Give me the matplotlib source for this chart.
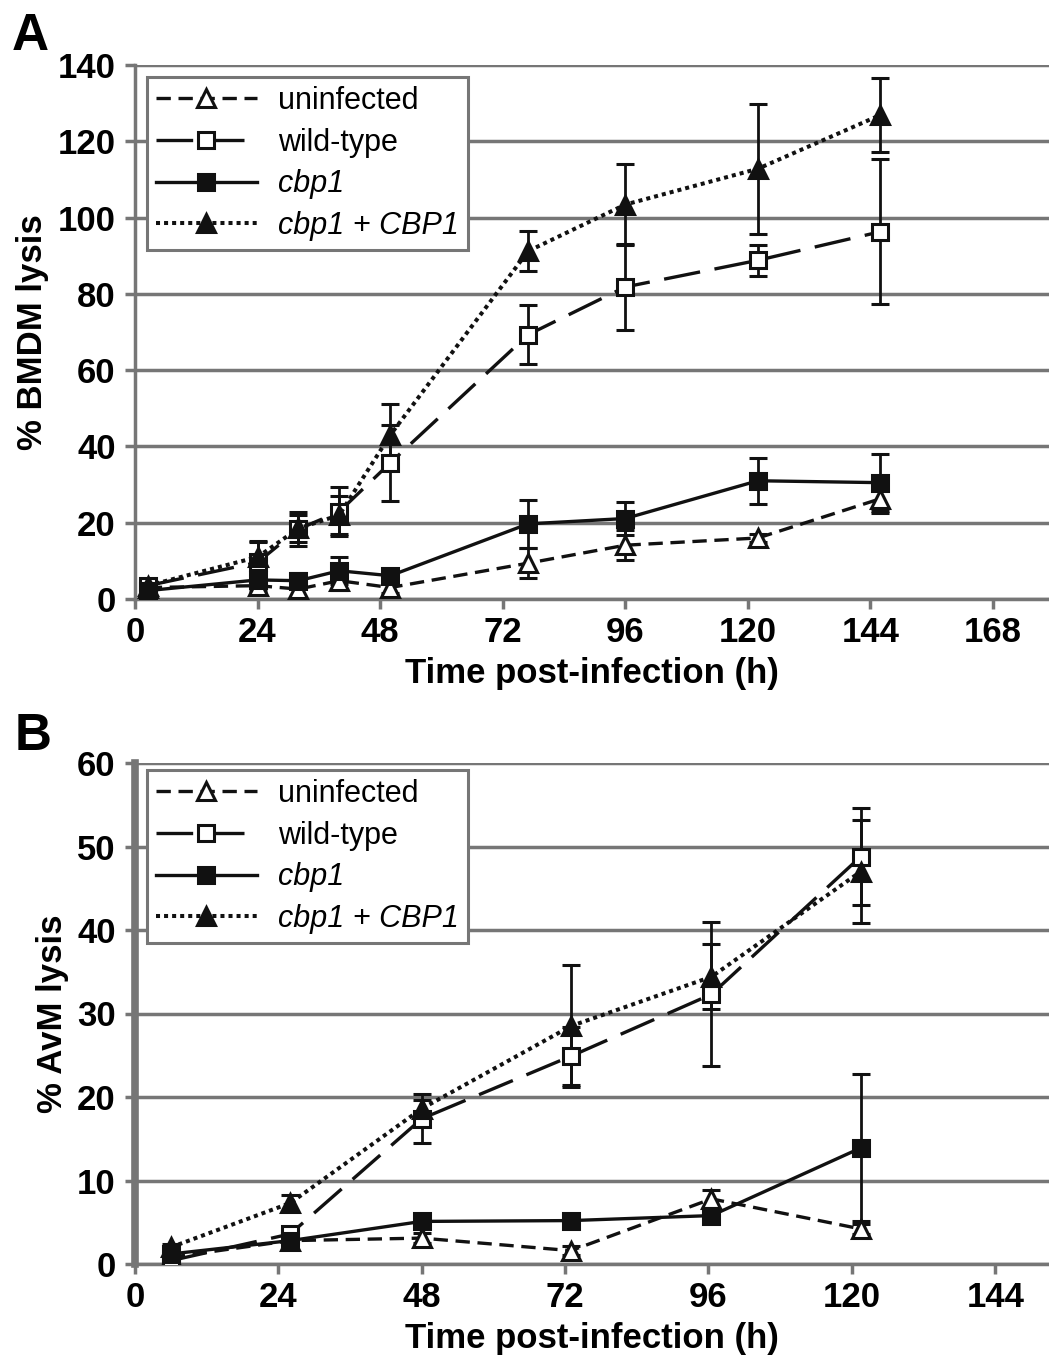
import matplotlib
matplotlib.use("Agg")
import matplotlib.pyplot as plt

plt.rcParams['font.family'] = ['Liberation Sans', 'DejaVu Sans']

# ---- panel A: BMDM ----
a_unf_x = [2.5, 24, 32, 40, 50, 77, 96, 122, 146]
a_unf_y = [3.0, 3.5, 2.6, 4.8, 3.0, 9.4, 14.1, 16.0, 26.3]
a_unf_e = [1.0, 1.5, 2.0, 2.5, 1.5, 4.0, 4.0, 1.0, 3.7]

a_wt_x = [2.5, 24, 32, 40, 50, 77, 96, 122, 146]
a_wt_y = [3.5, 9.6, 18.3, 22.9, 35.7, 69.3, 81.8, 88.8, 96.3]
a_wt_e = [1.0, 5.5, 4.5, 6.5, 10.0, 7.8, 11.3, 4.0, 19.0]

a_cbp_x = [2.5, 24, 32, 40, 50, 77, 96, 122, 146]
a_cbp_y = [2.2, 5.0, 4.8, 7.4, 6.1, 19.7, 21.1, 31.0, 30.5]
a_cbp_e = [1.0, 1.5, 2.0, 3.5, 1.5, 6.3, 4.3, 6.0, 7.5]

a_comp_x = [2.5, 24, 32, 40, 50, 77, 96, 122, 146]
a_comp_y = [3.5, 11.0, 18.5, 22.0, 43.0, 91.2, 103.4, 112.8, 126.9]
a_comp_e = [1.0, 4.0, 3.5, 5.0, 8.0, 5.3, 10.7, 17.0, 9.8]

# ---- panel B: AvM ----
b_unf_x = [6, 26, 48, 73, 96.5, 121.5]
b_unf_y = [0.8, 2.8, 3.1, 1.6, 7.8, 4.2]
b_unf_e = [0.4, 0.5, 0.6, 0.5, 1.1, 0.6]

b_wt_x = [6, 26, 48, 73, 96.5, 121.5]
b_wt_y = [0.4, 3.6, 17.4, 24.9, 32.3, 48.8]
b_wt_e = [0.4, 0.6, 2.9, 3.5, 8.6, 5.8]

b_cbp_x = [6, 26, 48, 73, 96.5, 121.5]
b_cbp_y = [1.2, 2.8, 5.1, 5.2, 5.8, 13.9]
b_cbp_e = [0.4, 0.5, 0.6, 0.8, 0.7, 8.8]

b_comp_x = [6, 26, 48, 73, 96.5, 121.5]
b_comp_y = [2.0, 7.3, 18.6, 28.5, 34.4, 47.0]
b_comp_e = [0.4, 1.0, 1.0, 7.3, 3.9, 6.2]

labels = ['uninfected', 'wild-type', 'cbp1', 'cbp1 + CBP1']
grey = '#767676'

styles = [
    dict(ls=(0, (4.3, 2.3)), marker='^', mfc='white', ms=13, lw=2.4),
    dict(ls=(0, (11, 4.4)), marker='s', mfc='white', ms=11.5, lw=2.4),
    dict(ls='-', marker='s', mfc='#111111', ms=11.5, lw=2.4),
    dict(ls=(0, (1.0, 1.0)), marker='^', mfc='#111111', ms=13, lw=2.9),
]


def draw(ax, series, ymax, ystep, xmax, ylabel, left_lw, leg_top):
    handles = []
    for (x, y, e), st in zip(series, styles):
        eb = ax.errorbar(x, y, yerr=e, color='#111111', lw=st['lw'],
                         ls=st['ls'], marker=st['marker'], mfc=st['mfc'],
                         mec='#111111', mew=2.2, ms=st['ms'], capsize=6.5,
                         capthick=2.2, elinewidth=2.0, zorder=3)
        eb[-1][0].set_linestyle('-')
        handles.append(eb[0])
    ax.set_ylim(0, ymax)
    ax.set_xlim(0, xmax)
    ax.set_yticks(range(0, ymax + 1, ystep))
    ax.set_xticks(range(0, int(xmax), 24))
    ax.yaxis.grid(True, color=grey, lw=2.5)
    ax.set_axisbelow(True)
    for s in ['top', 'right']:
        ax.spines[s].set_visible(False)
    for s in ['left', 'bottom']:
        ax.spines[s].set_color(grey)
        ax.spines[s].set_linewidth(2.5)
    ax.spines['left'].set_linewidth(left_lw)
    ax.tick_params(axis='both', color=grey, width=2.5, length=7,
                   labelsize=25)
    ax.tick_params(axis='y', pad=7)
    ax.tick_params(axis='x', pad=5)
    for t in ax.get_xticklabels() + ax.get_yticklabels():
        t.set_fontweight('bold')
    ax.set_xlabel('Time post-infection (h)', fontsize=25, fontweight='bold',
                  labelpad=6)
    ax.set_ylabel(ylabel, fontsize=25, fontweight='bold', labelpad=6)
    leg = ax.legend(handles, labels, loc='upper left',
                    bbox_to_anchor=(0.013, leg_top), borderaxespad=0,
                    fontsize=22, handlelength=3.3, handletextpad=0.7,
                    labelspacing=0.38, fancybox=False, framealpha=1,
                    edgecolor=grey, borderpad=0.3, numpoints=1)
    leg.get_frame().set_linewidth(2.2)
    for i, t in enumerate(leg.get_texts()):
        if i >= 2:
            t.set_fontstyle('italic')
    return ax


fig = plt.figure(figsize=(10.49, 13.55), dpi=100)

axA = fig.add_axes([135 / 1049, 1 - 599 / 1355, 914 / 1049, 534 / 1355])
draw(axA, [(a_unf_x, a_unf_y, a_unf_e), (a_wt_x, a_wt_y, a_wt_e),
           (a_cbp_x, a_cbp_y, a_cbp_e), (a_comp_x, a_comp_y, a_comp_e)],
     140, 20, 179, '% BMDM lysis', 2.5, 0.9775)

axB = fig.add_axes([135 / 1049, 1 - 1264 / 1355, 914 / 1049, 501 / 1355])
draw(axB, [(b_unf_x, b_unf_y, b_unf_e), (b_wt_x, b_wt_y, b_wt_e),
           (b_cbp_x, b_cbp_y, b_cbp_e), (b_comp_x, b_comp_y, b_comp_e)],
     60, 10, 153, '% AvM lysis', 5.5, 0.986)

fig.text(12 / 1049, 1 - 50 / 1355, 'A', fontsize=37, fontweight='bold')
fig.text(15 / 1049, 1 - 750 / 1355, 'B', fontsize=37, fontweight='bold')

fig.savefig('out.png', dpi=100)
